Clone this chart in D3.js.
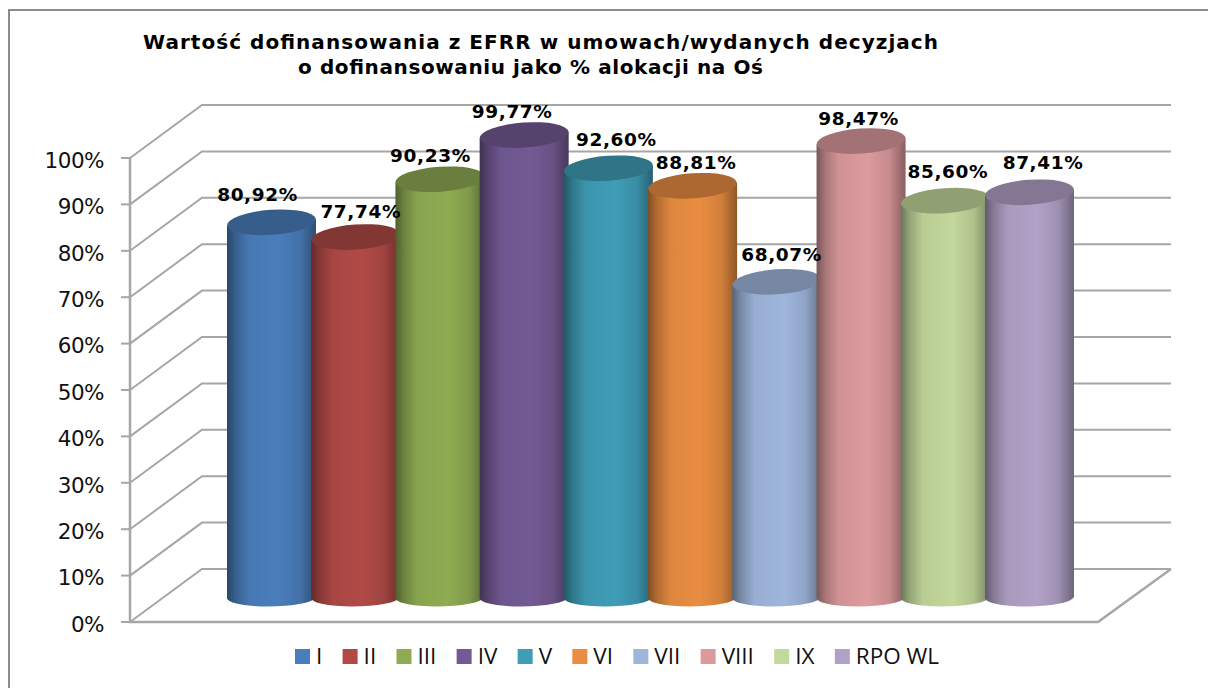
<!DOCTYPE html>
<html>
<head>
<meta charset="utf-8">
<script src="https://cdn.jsdelivr.net/npm/d3@7"></script>
<style>
  html, body { margin: 0; padding: 0; background: #fff; }
  svg { display: block; }
</style>
</head>
<body>
<div id="chart"></div>
<script>
const titleLines = [
  "Wartość dofinansowania z EFRR w umowach/wydanych decyzjach",
  "o dofinansowaniu jako % alokacji na Oś"
];
const categories = ["I", "II", "III", "IV", "V", "VI", "VII", "VIII", "IX", "RPO WL"];
const values = [80.92, 77.74, 90.23, 99.77, 92.60, 88.81, 68.07, 98.47, 85.60, 87.41];
const colors = ["#4a7ebb", "#b14a47", "#8fac52", "#735a94", "#3f9db6", "#e98d41", "#9fb6dc", "#dc9a9d", "#c3d89c", "#b1a1c7"];
const ticks = [0, 10, 20, 30, 40, 50, 60, 70, 80, 90, 100];

const width = 1208, height = 688;

const svg = d3.select("#chart").append("svg")
  .attr("width", width)
  .attr("height", height);

const defs = svg.append("defs");

// Front edge of the box, the back wall is shifted by (depthX, depthY)
const depthX = 72, depthY = -53;
const y = d3.scaleLinear().domain([0, 100]).range([622, 158]);
const frontLeft = 130, frontRight = 1098, backRight = 1171;

// Bars stand halfway into the box
const barY = d3.scaleLinear().domain([0, 100]).range([597, 134]);
const x = d3.scalePoint().domain(categories).range([271.5, 1029.5]);
const rx = 44.5;

const lineColor = "#a6a6a6";

// Frame: only the top and left edges are in the crop
svg.append("polyline")
  .attr("points", `9,${height} 9,10 ${width},10`)
  .attr("fill", "none")
  .attr("stroke", "#8c8c8c")
  .attr("stroke-width", 2);

// Title
const titleLayout = [
  { x: 143, y: 48.5, len: 795 },
  { x: 298, y: 74, len: 465 }
];
svg.selectAll(".title")
  .data(titleLines)
  .enter()
  .append("text")
  .attr("class", "title")
  .attr("x", (d, i) => titleLayout[i].x)
  .attr("y", (d, i) => titleLayout[i].y)
  .attr("textLength", (d, i) => titleLayout[i].len)
  .attr("lengthAdjust", "spacing")
  .attr("font-family", "DejaVu Sans")
  .attr("font-weight", "700")
  .attr("font-size", "20px")
  .attr("fill", "#000")
  .text(d => d);

// Grid: diagonal on the side wall + horizontal on the back wall
const grid = svg.append("g").attr("fill", "none").attr("stroke", lineColor).attr("stroke-width", 2);
grid.selectAll(".grid-line")
  .data(ticks)
  .enter()
  .append("polyline")
  .attr("points", d => `${frontLeft},${y(d)} ${frontLeft + depthX},${y(d) + depthY} ${backRight},${y(d) + depthY}`);

// Floor and axis
grid.append("polyline")
  .attr("points", `${frontLeft},${y(100)} ${frontLeft},${y(0)} ${frontRight},${y(0)} ${backRight},${y(0) + depthY}`)
  .attr("stroke-width", 2.5);

// Tick marks and labels
svg.selectAll(".tick-mark")
  .data(ticks)
  .enter()
  .append("line")
  .attr("x1", frontLeft - 9).attr("x2", frontLeft)
  .attr("y1", d => y(d)).attr("y2", d => y(d))
  .attr("stroke", lineColor)
  .attr("stroke-width", 2);

svg.selectAll(".tick-label")
  .data(ticks)
  .enter()
  .append("text")
  .attr("x", 104)
  .attr("y", d => y(d))
  .attr("dy", "0.46em")
  .attr("text-anchor", "end")
  .attr("font-family", "DejaVu Sans")
  .attr("font-size", "21.5px")
  .attr("letter-spacing", "-0.5px")
  .attr("fill", "#111")
  .text(d => `${d}%`);

// Cylinders
const baseRy = 9.5, capRy = 12.5, capTilt = -4, baseTilt = -1;

categories.forEach((c, i) => {
  const grad = defs.append("linearGradient")
    .attr("id", `cyl-${i}`)
    .attr("x1", "0%").attr("x2", "100%")
    .attr("y1", "0%").attr("y2", "0%");
  const col = d3.color(colors[i]);
  const stops = [[0, 0.55], [0.1, 0.76], [0.25, 0.95], [0.58, 1], [0.82, 0.9], [1, 0.62]];
  stops.forEach(s => {
    grad.append("stop")
      .attr("offset", s[0])
      .attr("stop-color", d3.rgb(col.r * s[1], col.g * s[1], col.b * s[1]).formatHex());
  });

  const cx = x(c);
  const top = barY(values[i]);
  const base = barY(0);
  const tiltOff = rx * Math.sin(capTilt * Math.PI / 180);

  svg.append("path")
    .attr("d", `M${cx - rx},${top - tiltOff} L${cx - rx},${base}
      A${rx},${baseRy} ${baseTilt} 0 0 ${cx + rx},${base} L${cx + rx},${top + tiltOff} Z`)
    .attr("fill", `url(#cyl-${i})`);

  svg.append("ellipse")
    .attr("cx", cx).attr("cy", top)
    .attr("rx", rx).attr("ry", capRy)
    .attr("transform", `rotate(${capTilt} ${cx} ${top})`)
    .attr("fill", d3.rgb(col.r * 0.74, col.g * 0.74, col.b * 0.74).formatHex());
});

// Value labels, nudged by hand like in the original chart
const labelDx = [-14, 5, -9.5, -12, 8, 3.5, 4.7, -2.5, 2.5, 13.5];
const labelDy = [-21, -19, -17.5, -17, -22, -17, -21, -16, -23, -23];
svg.selectAll(".bar-label")
  .data(categories)
  .enter()
  .append("text")
  .attr("class", "bar-label")
  .attr("x", (d, i) => x(d) + labelDx[i])
  .attr("y", (d, i) => barY(values[i]) + labelDy[i])
  .attr("text-anchor", "middle")
  .attr("font-family", "DejaVu Sans")
  .attr("font-weight", "700")
  .attr("font-size", "18.5px")
  .attr("letter-spacing", "0.6px")
  .attr("fill", "#000")
  .text((d, i) => values[i].toFixed(2).replace(".", ",") + "%");

// Legend
const legendFont = "Open Sans";
const legendSize = "22.5px";
const legend = svg.append("g").attr("transform", "translate(295,0)");
let lx = 0;
const probe = svg.append("text").attr("font-family", legendFont).attr("font-size", legendSize);
categories.forEach((c, i) => {
  legend.append("rect")
    .attr("x", lx).attr("y", 649)
    .attr("width", 15).attr("height", 15)
    .attr("fill", colors[i]);
  legend.append("text")
    .attr("x", lx + 21)
    .attr("y", 664)
    .attr("font-family", legendFont)
    .attr("font-size", legendSize)
    .attr("fill", "#111")
    .text(c);
  probe.text(c);
  lx += 21 + probe.node().getComputedTextLength() + 20.3;
});
probe.remove();
</script>
</body>
</html>
